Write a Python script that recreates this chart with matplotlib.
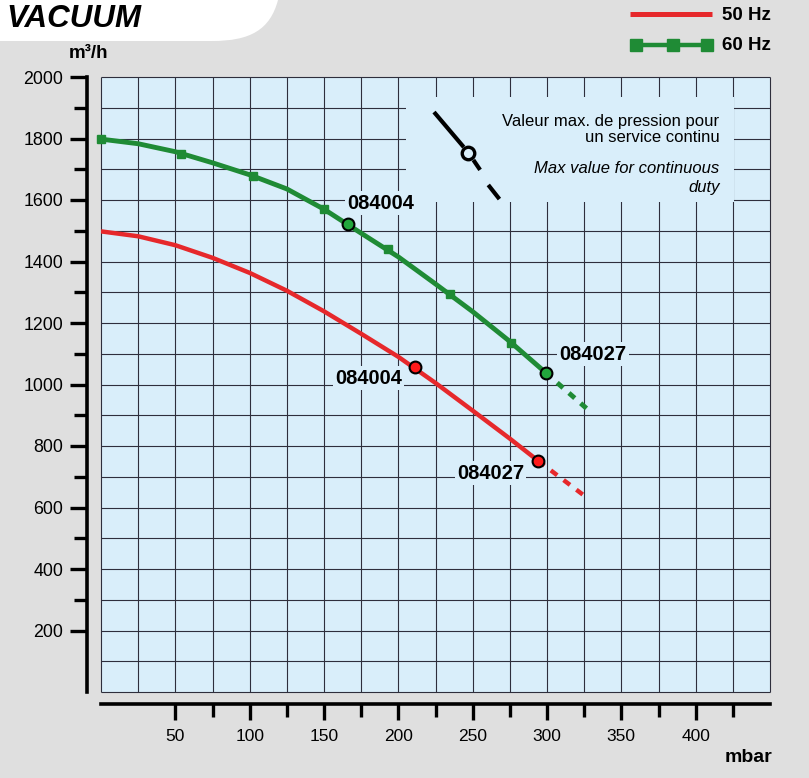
import matplotlib
matplotlib.use('Agg')
import matplotlib.pyplot as plt
from matplotlib.patches import Rectangle, PathPatch
from matplotlib.path import Path
from matplotlib.lines import Line2D
import numpy as np

plt.rcParams['font.family'] = ['Liberation Sans', 'DejaVu Sans']

# --- data (mbar -> m3/h) ---
pressure_50 = [0, 25, 50, 75, 100, 125, 150, 175, 200, 225, 250, 275, 294]
flow_50 = [1498, 1482, 1453, 1412, 1363, 1305, 1238, 1165, 1090, 1005, 915, 824, 752]
pressure_50_ext = [294, 326]
flow_50_ext = [752, 635]

pressure_60 = [0, 25, 50, 75, 100, 125, 150, 175, 200, 225, 250, 275, 299]
flow_60 = [1798, 1783, 1757, 1721, 1682, 1636, 1570, 1492, 1415, 1327, 1237, 1140, 1039]
pressure_60_ext = [299, 329]
flow_60_ext = [1039, 912]
squares_60_p = [0, 54, 102, 150, 193, 235, 276]
squares_60_q = [1798, 1750, 1679, 1571, 1440, 1293, 1134]

models = ['084004', '084027']
points_50_p = [211, 294]
points_50_q = [1058, 752]
points_60_p = [166, 299]
points_60_q = [1521, 1039]

x_major = [50, 100, 150, 200, 250, 300, 350, 400]
x_minor = [75, 125, 175, 225, 275, 325, 375, 425]
y_major = [200, 400, 600, 800, 1000, 1200, 1400, 1600, 1800, 2000]
y_minor = [300, 500, 700, 900, 1100, 1300, 1500, 1700, 1900]

RED = '#e6282b'
GREEN = '#1f8b35'
FACE = '#d9eefa'
BG = '#dfdfdf'
GRID = '#2e2e3c'

W, H = 809, 778


def fig_xy(x, y):
    return x / W, 1 - y / H


fig = plt.figure(figsize=(W / 100, H / 100), dpi=100)
fig.patch.set_facecolor(BG)

# white rounded corner behind the title
verts = [fig_xy(0, 0), fig_xy(278, 0), fig_xy(270, 30), fig_xy(250, 41),
         fig_xy(212, 41), fig_xy(0, 41), fig_xy(0, 0)]
codes = [Path.MOVETO, Path.LINETO, Path.CURVE4, Path.CURVE4, Path.CURVE4,
         Path.LINETO, Path.CLOSEPOLY]
fig.patches.append(PathPatch(Path(verts, codes), transform=fig.transFigure,
                             fc='white', ec='none'))

fig.text(*fig_xy(6, 19), 'VACUUM', fontsize=22.5, fontweight='bold',
         fontstyle='italic', va='center', ha='left')

ax = fig.add_axes([101 / W, 1 - 692 / H, 669 / W, 615 / H])
ax.set_facecolor(FACE)
ax.set_xlim(0, 450)
ax.set_ylim(0, 2000)

# grid
ax.vlines(np.arange(0, 451, 25), 0, 2000, color=GRID, lw=0.8, zorder=1, clip_on=False)
ax.hlines(np.arange(0, 2001, 100), 0, 450, color=GRID, lw=0.8, zorder=1, clip_on=False)

# box behind the note (hides grid)
ax.add_patch(Rectangle((205, 1592), 221, 343, fc=FACE, ec='none', zorder=1.5))

# spines
for s in ['top', 'right']:
    ax.spines[s].set_visible(False)
ax.spines['left'].set_position(('outward', 10))
ax.spines['bottom'].set_position(('outward', 8.6))
for s in ['left', 'bottom']:
    ax.spines[s].set_linewidth(2.6)

ax.set_xticks(x_major)
ax.set_xticks(x_minor, minor=True)
ax.set_yticks(y_major)
ax.set_yticks(y_minor, minor=True)
ax.set_xticklabels([str(v) for v in x_major])
ax.set_yticklabels([str(v) for v in y_major])
ax.tick_params(axis='x', which='major', length=11.5, width=2.4, pad=6.5, labelsize=12.5)
ax.tick_params(axis='x', which='minor', length=9.4, width=2.4)
ax.tick_params(axis='y', which='major', length=12, width=2.4, pad=5.2, labelsize=12.8)
ax.tick_params(axis='y', which='minor', length=9.4, width=2.4)

# curves
ax.plot(pressure_50, flow_50, color=RED, lw=3.2, zorder=3, solid_capstyle='butt')
ax.plot(pressure_50_ext, flow_50_ext, color=RED, lw=3.2, zorder=3,
        dashes=(1.8, 1.8), dash_capstyle='butt')
ax.plot(pressure_60, flow_60, color=GREEN, lw=3.5, zorder=3, solid_capstyle='butt')
ax.plot(pressure_60_ext, flow_60_ext, color=GREEN, lw=3.5, zorder=3,
        dashes=(1.6, 1.6), dash_capstyle='butt')
ax.plot(squares_60_p, squares_60_q, 's', color=GREEN, ms=5.5, zorder=3.5, clip_on=False)

ax.plot(points_50_p, points_50_q, 'o', mfc='#ff1a1a', mec='black', mew=1.5, ms=8.5, zorder=4)
ax.plot(points_60_p, points_60_q, 'o', mfc='#22a63c', mec='black', mew=1.5, ms=8.5, zorder=4)

lab = dict(fontsize=14.5, fontweight='bold', zorder=5,
           bbox=dict(boxstyle='square,pad=0.12', fc=FACE, ec='none'))
ax.text(188, 1590, models[0], ha='center', va='center', **lab)
ax.text(331, 1099, models[1], ha='center', va='center', **lab)
ax.text(180, 1021, models[0], ha='center', va='center', **lab)
ax.text(262, 712, models[1], ha='center', va='center', **lab)

# note symbol
ax.plot([224, 244], [1886, 1772], color='black', lw=3, zorder=4, solid_capstyle='butt')
ax.plot([250.5, 255], [1730, 1698], color='black', lw=3, zorder=4, solid_capstyle='butt')
ax.plot([260.5, 268], [1649, 1603], color='black', lw=3, zorder=4, solid_capstyle='butt')
ax.plot([247], [1753], 'o', mfc=FACE, mec='black', mew=2.4, ms=9, zorder=5)

note = dict(fontsize=12, ha='right', va='center', zorder=5)
ax.text(416, 1854, 'Valeur max. de pression pour', **note)
ax.text(416, 1802, 'un service continu', **note)
ax.text(416, 1704, 'Max value for continuous', fontstyle='italic', **note)
ax.text(416, 1642, 'duty', fontstyle='italic', **note)

# axis unit labels
fig.text(*fig_xy(88, 54), 'm³/h', fontsize=13.5, fontweight='bold', ha='center', va='center')
fig.text(*fig_xy(772, 757), 'mbar', fontsize=14, fontweight='bold', ha='right', va='center')

# legend
fig.add_artist(Line2D([630 / W, 712 / W], [1 - 14 / H] * 2, transform=fig.transFigure,
                      color=RED, lw=3.6, solid_capstyle='butt'))
fig.add_artist(Line2D([630 / W, 712 / W], [1 - 45 / H] * 2, transform=fig.transFigure,
                      color=GREEN, lw=3.2, solid_capstyle='butt'))
fig.add_artist(Line2D([636 / W, 673 / W, 707 / W], [1 - 45 / H] * 3, transform=fig.transFigure,
                      color=GREEN, ls='none', marker='s', ms=8))
fig.text(*fig_xy(722, 15), '50 Hz', fontsize=13.5, fontweight='bold', ha='left', va='center')
fig.text(*fig_xy(722, 46), '60 Hz', fontsize=13.5, fontweight='bold', ha='left', va='center')

fig.savefig('out.png', dpi=100, facecolor=BG)
